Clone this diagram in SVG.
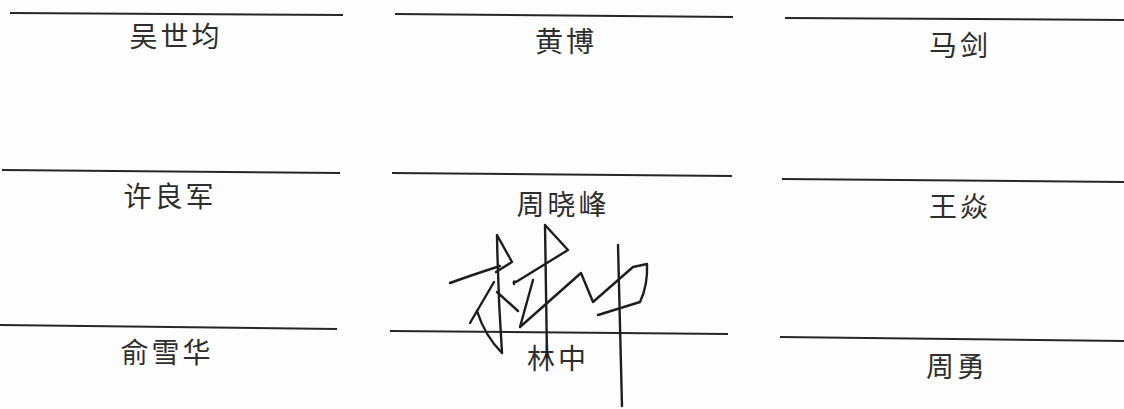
<svg xmlns="http://www.w3.org/2000/svg" width="1124" height="409" viewBox="0 0 1124 409">
<style>
.bg{fill:#fdfdfd}
.ln{stroke:#262626;stroke-width:2;fill:none}
.nm{font-family:"Noto Sans CJK SC","Noto Sans",sans-serif;font-size:28px;fill:#2e2e2e;text-anchor:middle;letter-spacing:3px}
.sig{stroke:#1e1e1e;stroke-width:2.4;fill:none;stroke-linecap:round;stroke-linejoin:round}
</style>
<rect class="bg" x="0" y="0" width="1124" height="409"/>
<g id="connectors">
<path class="ln" d="M10 13 L343 15"/>
<path class="ln" d="M395 14 L733 17"/>
<path class="ln" d="M785 18 L1124 20"/>
<path class="ln" d="M2 170 L340 173"/>
<path class="ln" d="M392 173 L732 176"/>
<path class="ln" d="M782 179 L1124 182"/>
<path class="ln" d="M0 325 L337 329"/>
<path class="ln" d="M390 331 L728 334"/>
<path class="ln" d="M780 337 L1124 341"/>
</g>
<g id="n1"><text class="nm" x="176" y="47">吴世均</text></g>
<g id="n2"><text class="nm" x="566" y="52">黄博</text></g>
<g id="n3"><text class="nm" x="960" y="56">马剑</text></g>
<g id="n4"><text class="nm" x="170" y="207">许良军</text></g>
<g id="n5"><text class="nm" x="563" y="215">周晓峰</text></g>
<g id="n6"><text class="nm" x="960" y="217">王焱</text></g>
<g id="n7"><text class="nm" x="167" y="363">俞雪华</text></g>
<g id="n8"><text class="nm" x="558" y="369">林中</text></g>
<g id="n9"><text class="nm" x="957" y="377">周勇</text></g>
<g id="signature">
<path class="sig" d="M450 283 Q472 275 500 266"/>
<path class="sig" d="M496 272 L512 262 L497 235 Q498 295 502 353"/>
<path class="sig" d="M494 282 L470 323"/>
<path class="sig" d="M477 311 Q485 336 502 353"/>
<path class="sig" d="M497 292 L518 311"/>
<path class="sig" d="M514 284 Q513 280 516 282 L568 250 L545 225 Q546 300 547 357"/>
<path class="sig" d="M533 280 L520 327 L581 273 L593 302 L633 267 L647 264 Q648 285 640 302 L598 315"/>
<path class="sig" d="M618 245 Q620 320 622 406"/>
</g>
</svg>
